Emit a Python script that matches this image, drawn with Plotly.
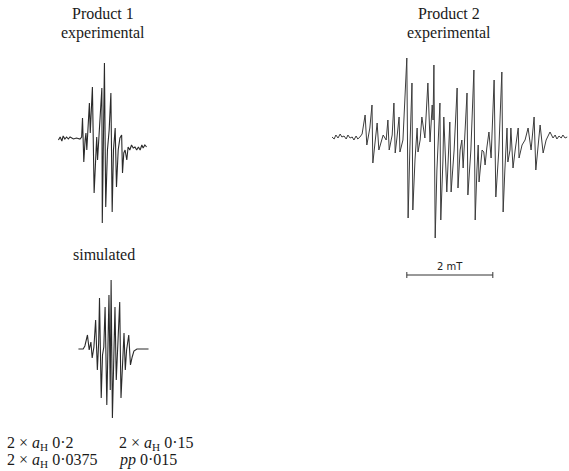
import plotly.graph_objects as go

# ---------------- data (field offset in mT, first-derivative EPR signal in a.u.) ----------------
p1_field = [0.01, 0.05, 0.09, 0.12, 0.16, 0.20, 0.24, 0.28, 0.36, 0.43, 0.51, 0.55, 0.57, 0.60, 0.63,
            0.65, 0.67, 0.70, 0.73, 0.75, 0.77, 0.80, 0.84, 0.88, 0.90, 0.92, 0.98, 1.02, 1.03, 1.05,
            1.08, 1.11, 1.15, 1.19, 1.23, 1.26, 1.29, 1.33, 1.36, 1.40, 1.44, 1.48, 1.50, 1.53, 1.56,
            1.60, 1.63, 1.67, 1.71, 1.75, 1.79, 1.83, 1.87, 1.91, 1.95, 1.98, 2.02, 2.06]
p1_signal = [-1, 2, -2, 3, 0, 2, 0, 2, 0, 1, 0, 2, 21, -23, -1,
             6, -11, 9, 36, 6, 22, 52, -54, -11, 2, -21, 16, 51, -84, 6,
             76, -68, -11, 9, 46, -73, -11, 11, -48, -11, 1, 4, -34, -14, -11,
             -21, -8, -11, -6, -9, -8, -11, -8, -11, -6, -9, -6, -8]

sim_field = [0.01, 0.12, 0.16, 0.22, 0.26, 0.30, 0.33, 0.37, 0.41, 0.45, 0.48, 0.50, 0.54, 0.57, 0.60,
             0.63, 0.67, 0.70, 0.72, 0.75, 0.77, 0.80, 0.83, 0.86, 0.89, 0.93, 0.97, 1.00, 1.04, 1.07,
             1.10, 1.13, 1.18, 1.22, 1.26, 1.30, 1.37, 1.64]
sim_signal = [0, 0, 3, 14, -1, 7, -9, 2, 29, -21, 6, 51, -49, -6, 2,
              42, -56, -4, 54, -41, 69, -69, -14, 42, -31, 6, 47, -49, -1, 16,
              -21, -1, 14, -16, -8, -2, 0, 0]

p2_field = [0.00, 0.05, 0.09, 0.14, 0.19, 0.23, 0.28, 0.33, 0.37, 0.42, 0.47, 0.51, 0.56, 0.60, 0.65, 0.70,
            0.77, 0.81, 0.88, 0.93, 0.95, 1.00, 1.05, 1.09, 1.14, 1.19, 1.26, 1.30, 1.33, 1.40, 1.44,
            1.47, 1.51, 1.56, 1.58, 1.65, 1.74, 1.77, 1.81, 1.86, 1.88, 1.93, 1.98, 2.00, 2.05, 2.09,
            2.16, 2.23, 2.28, 2.33, 2.35, 2.37, 2.40, 2.44, 2.51, 2.53, 2.58, 2.60, 2.67, 2.72, 2.74,
            2.77, 2.84, 2.91, 2.93, 2.98, 3.02, 3.05, 3.09, 3.14, 3.16, 3.23, 3.30, 3.33, 3.37, 3.40,
            3.42, 3.49, 3.53, 3.56, 3.60, 3.65, 3.70, 3.77, 3.81, 3.88, 3.95, 3.98, 4.02, 4.07, 4.09,
            4.14, 4.16, 4.21, 4.26, 4.33, 4.35, 4.42, 4.49, 4.56, 4.63, 4.70, 4.74, 4.79, 4.84, 4.91,
            4.98, 5.07, 5.14, 5.19, 5.23, 5.28, 5.33, 5.37, 5.42, 5.47]
p2_signal = [0, -2, 2, -1, 3, 0, 1, -2, 2, -1, 0, -3, 1, -2, 0, 3,
             22, -8, 9, 32, -26, -3, 14, -13, -5, 2, -3, 17, -13, 2, 34,
             -16, -1, 20, -15, -3, 79, -81, -13, 54, -73, -23, 9, -15, -3, 20,
             -1, 54, -5, 32, 17, 72, -101, -33, 34, -83, -23, 20, -55, -13, 15,
             -55, -13, 49, -51, -13, -3, -31, -3, 44, -58, -13, 67, -83, -33, -8,
             -45, -13, -15, -28, -11, 5, -21, 57, -60, -13, 65, -75, -33, 9, -25,
             -13, 9, -31, -13, 9, -21, -8, -3, 9, -13, 20, -33, -8, 12, -16,
             -3, 5, -1, 2, -2, 1, -1, 2, -1, 0]

scale_bar_start_mT = 1.74
scale_bar_length_mT = 2.0
scale_bar_label = "2 mT"

hfs_lines = [["2 × <i>a</i><sub>H</sub> 0·2", "2 × <i>a</i><sub>H</sub> 0·15"],
             ["2 × <i>a</i><sub>H</sub> 0·0375", "<i>pp</i> 0·015"]]

# ---------------- figure ----------------
W, H = 569, 471
fig = go.Figure()

fig.add_trace(go.Scatter(x=p1_field, y=p1_signal, mode="lines", xaxis="x", yaxis="y",
                         line=dict(color="#2a2a2a", width=1.1), showlegend=False, hoverinfo="skip"))
fig.add_trace(go.Scatter(x=sim_field, y=sim_signal, mode="lines", xaxis="x2", yaxis="y2",
                         line=dict(color="#2a2a2a", width=1.1), showlegend=False, hoverinfo="skip"))
fig.add_trace(go.Scatter(x=p2_field, y=p2_signal, mode="lines", xaxis="x3", yaxis="y3",
                         line=dict(color="#3c3c3c", width=1.0), showlegend=False, hoverinfo="skip"))

def ax(domain, rng, anchor):
    return dict(domain=domain, range=rng, visible=False, showgrid=False, zeroline=False,
                anchor=anchor, fixedrange=True)

fig.update_layout(
    width=W, height=H, margin=dict(l=0, r=0, t=0, b=0),
    paper_bgcolor="white", plot_bgcolor="white",
    xaxis=ax([50 / W, 160 / W], [-0.186, 2.372], "y"),
    yaxis=ax([1 - 235 / H, 1 - 55 / H], [-96, 84], "x"),
    xaxis2=ax([70 / W, 160 / W], [-0.186, 1.907], "y2"),
    yaxis2=ax([1 - 430 / H, 1 - 270 / H], [-81, 79], "x2"),
    xaxis3=ax([330 / W, 569 / W], [-0.0465, 5.5116], "y3"),
    yaxis3=ax([1 - 290 / H, 1 - 40 / H], [-153, 97], "x3"),
)

# scale bar (2 mT) in Product 2 field units
y_bar = -138
fig.add_shape(type="line", xref="x3", yref="y3", x0=scale_bar_start_mT,
              x1=scale_bar_start_mT + scale_bar_length_mT, y0=y_bar, y1=y_bar,
              line=dict(color="#333", width=1))
for xb in (scale_bar_start_mT, scale_bar_start_mT + scale_bar_length_mT):
    fig.add_shape(type="line", xref="x3", yref="y3", x0=xb, x1=xb, y0=y_bar - 3, y1=y_bar + 3,
                  line=dict(color="#333", width=1))
fig.add_annotation(xref="x3", yref="y3", x=scale_bar_start_mT + scale_bar_length_mT / 2, y=y_bar,
                   yshift=9, text=scale_bar_label, showarrow=False,
                   font=dict(family="DejaVu Sans", size=10, color="#222"))

serif = dict(family="Liberation Serif", size=16, color="#1a1a1a")

def txt(px, py, s, xanchor="center", size=16):
    f = dict(serif)
    f["size"] = size
    fig.add_annotation(xref="paper", yref="paper", x=px / W, y=1 - py / H, text=s,
                       showarrow=False, xanchor=xanchor, yanchor="middle", font=f)

txt(103, 14, "Product 1")
txt(103, 33, "experimental")
txt(449, 14, "Product 2")
txt(449, 33, "experimental")
txt(104, 254, "simulated")

txt(5, 443, hfs_lines[0][0], xanchor="left", size=16)
txt(117, 443, hfs_lines[0][1], xanchor="left", size=16)
txt(5, 460, hfs_lines[1][0], xanchor="left", size=16)
txt(117, 460, hfs_lines[1][1], xanchor="left", size=16)

fig.write_html("out.html", config={"displayModeBar": False},
               post_script="document.body.style.margin='0';document.body.style.padding='0';")
